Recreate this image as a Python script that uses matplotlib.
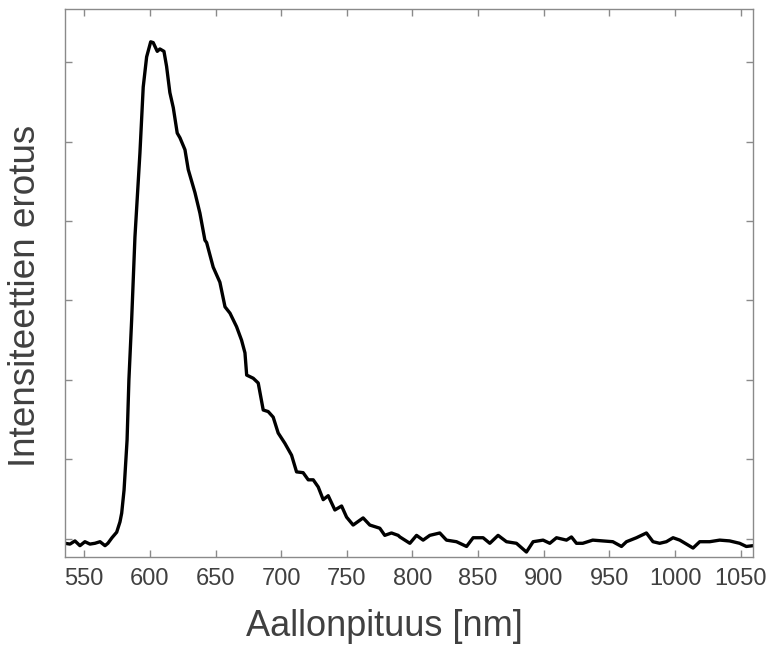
import matplotlib
matplotlib.use("Agg")
import matplotlib.pyplot as plt

wavelength = [535.3, 539.1, 542.9, 546.7, 550.5, 554.3, 558.1, 562.0, 565.8, 568.0,
              571.1, 574.7, 577.2, 578.5, 580.3, 582.6, 584.0, 586.1, 588.6, 592.4,
              594.9, 597.5, 600.6, 602.5, 605.6, 607.6, 610.7, 612.7, 615.2, 617.8,
              620.8, 622.9, 626.7, 629.2, 634.3, 638.1, 641.9, 643.2, 648.2, 653.3,
              657.2, 661.0, 666.0, 669.8, 672.4, 673.7, 678.7, 682.5, 686.3, 690.1,
              693.9, 697.7, 702.8, 707.9, 711.7, 716.7, 720.6, 724.4, 728.2, 732.0,
              735.8, 740.9, 746.0, 749.8, 754.8, 762.4, 767.5, 775.1, 778.9, 784.0,
              789.1, 790.4, 798.0, 803.1, 808.1, 813.2, 820.8, 825.9, 833.5, 841.2,
              846.2, 853.8, 858.9, 865.2, 871.6, 879.2, 886.8, 891.9, 899.5, 904.6,
              909.7, 917.3, 921.1, 924.9, 929.7, 937.3, 944.9, 952.6, 959.2, 963.0,
              970.6, 978.2, 983.2, 988.3, 993.4, 998.5, 1003.6, 1008.7, 1013.7, 1018.8,
              1026.4, 1034.0, 1041.6, 1049.2, 1054.3, 1059.4]
intensity = [-0.06, -0.07, -0.03, -0.09, -0.04, -0.07, -0.06, -0.04, -0.09, -0.06,
             0.01, 0.08, 0.21, 0.32, 0.61, 1.24, 2.00, 2.76, 3.80, 4.86,
             5.69, 6.07, 6.26, 6.25, 6.14, 6.17, 6.14, 5.95, 5.62, 5.43,
             5.11, 5.05, 4.90, 4.65, 4.36, 4.10, 3.76, 3.73, 3.42, 3.23,
             2.92, 2.84, 2.67, 2.50, 2.34, 2.06, 2.02, 1.96, 1.62, 1.60,
             1.53, 1.33, 1.20, 1.05, 0.84, 0.83, 0.74, 0.74, 0.65, 0.49,
             0.54, 0.36, 0.41, 0.27, 0.17, 0.26, 0.17, 0.13, 0.04, 0.07,
             0.04, 0.02, -0.06, 0.04, -0.02, 0.04, 0.07, -0.02, -0.04, -0.10,
             0.01, 0.01, -0.06, 0.04, -0.04, -0.06, -0.17, -0.04, -0.02, -0.06,
             0.01, -0.02, 0.02, -0.06, -0.06, -0.02, -0.03, -0.04, -0.10, -0.04,
             0.01, 0.07, -0.04, -0.06, -0.04, 0.01, -0.02, -0.07, -0.12, -0.04,
             -0.04, -0.02, -0.03, -0.06, -0.10, -0.09]
x_ticks = [550, 600, 650, 700, 750, 800, 850, 900, 950, 1000, 1050]
y_ticks = [0, 1, 2, 3, 4, 5, 6]

plt.rcParams['font.family'] = ['Liberation Sans', 'DejaVu Sans']

fig = plt.figure(figsize=(7.68, 6.45), dpi=100)
ax = fig.add_axes([0.0846, 0.1364, 0.8959, 0.8492])
ax.plot(wavelength, intensity, color='black', linewidth=2.4)
ax.set_xlim(535.3, 1059.4)
ax.set_ylim(-0.233, 6.67)
ax.set_xticks(x_ticks)
ax.set_yticks(y_ticks)
ax.set_yticklabels([])
for s in ax.spines.values():
    s.set_color('#8a8a8a')
    s.set_linewidth(1.0)
ax.tick_params(axis='both', direction='in', length=5, width=1, colors='#8a8a8a',
               top=True, right=True, labelcolor='#404040', labelsize=17, pad=8)
ax.set_xlabel('Aallonpituus [nm]', fontsize=26, color='#404040')
ax.xaxis.set_label_coords(0.464, -0.094, transform=ax.transAxes)
ax.xaxis.label.set_va('top')
ax.set_ylabel('Intensiteettien erotus', fontsize=26.6, color='#404040')
ax.yaxis.set_label_coords(-0.032, 0.477, transform=ax.transAxes)
fig.savefig('out.png', dpi=100)
